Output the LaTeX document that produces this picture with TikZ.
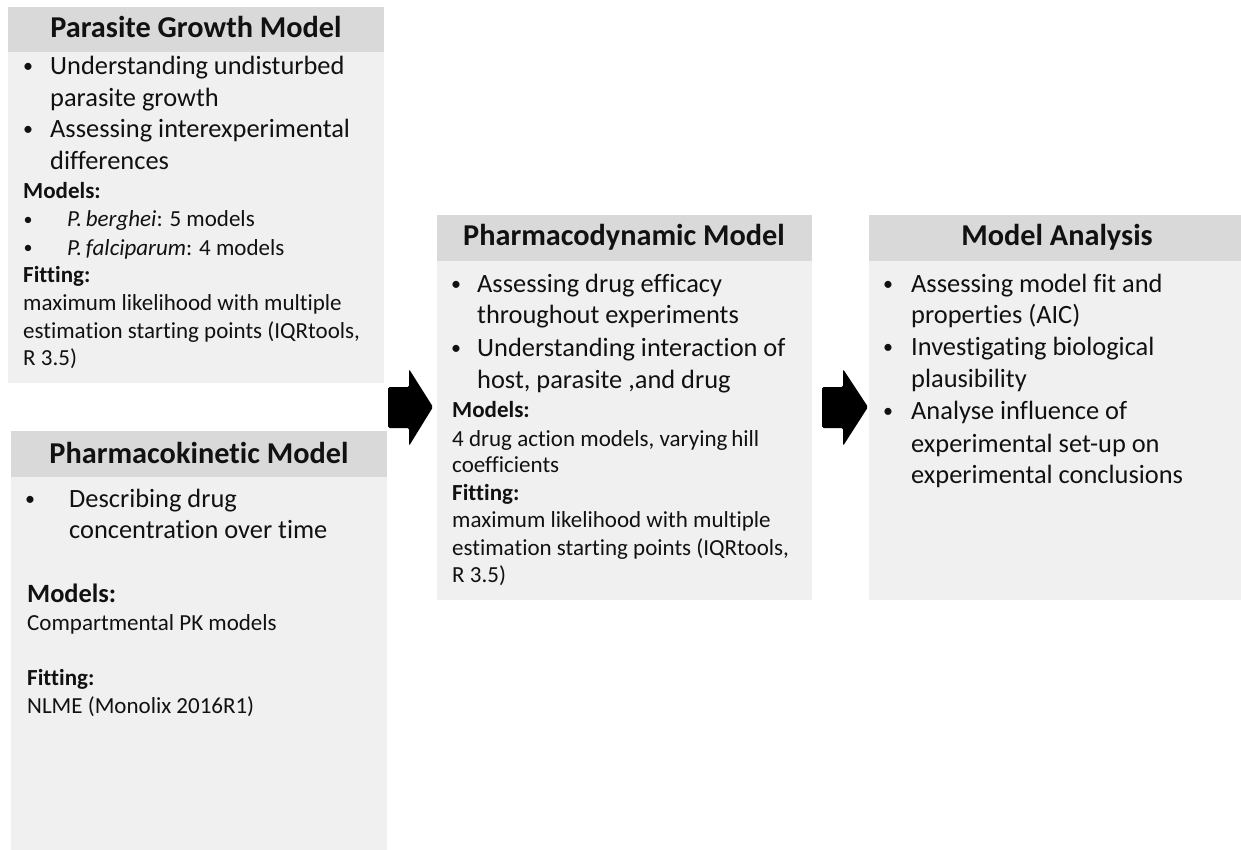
\documentclass[tikz,border=0pt]{standalone}
\usepackage{fontspec}
\setmainfont{Carlito}[Ligatures=NoCommon]
\begin{document}
\begin{tikzpicture}[x=1pt,y=-1pt,
  hdrfill/.style={fill=hdrgray},
  bodyfill/.style={fill=bodygray},
  hdr/.style={font=\bfseries\fontsize{30.3}{36}\selectfont, anchor=base, inner sep=0pt, text=ink},
  big/.style={font=\fontsize{26.4}{32}\selectfont, anchor=base west, inner sep=0pt, text=ink},
  small/.style={font=\fontsize{23}{28}\selectfont, anchor=base west, inner sep=0pt, text=ink},
  smallb/.style={small, font=\bfseries\fontsize{23}{28}\selectfont},
  bigb/.style={big, font=\bfseries\fontsize{26.4}{32}\selectfont},
  dot/.style={font=\fontsize{20}{24}\selectfont, anchor=base, inner sep=0pt, text=ink, yshift=2pt},
  sdot/.style={font=\fontsize{18}{22}\selectfont, anchor=base, inner sep=0pt, text=ink, yshift=1.5pt},
  blockarrow/.style={fill=black, rounded corners=1.5pt}
]
\definecolor{hdrgray}{HTML}{D9D9D9}
\definecolor{bodygray}{HTML}{F0F0F0}
\definecolor{ink}{HTML}{111111}
\useasboundingbox (0,0) rectangle (1241,850);

% ---- panel backgrounds ----
\path[bodyfill] (8,7) rectangle (384,383);
\path[hdrfill]  (8,7) rectangle (384,52);
\path[bodyfill] (11,431) rectangle (387,850);
\path[hdrfill]  (11,431) rectangle (387,477);
\path[bodyfill] (437,215) rectangle (812,600);
\path[hdrfill]  (437,215) rectangle (812,261);
\path[bodyfill] (869,215) rectangle (1241,600);
\path[hdrfill]  (869,215) rectangle (1241,261);

% ---- Parasite Growth Model ----
\node[hdr] (pgh) at (196,38) {Parasite Growth Model};
\node[dot] (pgd1) at (28,75) {•};
\node[big] (pg1) at (50,75) {Understanding undisturbed};
\node[big] (pg2) at (50,107) {parasite growth};
\node[dot] (pgd2) at (28,138) {•};
\node[big] (pg3) at (50,138) {Assessing interexperimental};
\node[big] (pg4) at (50,170) {differences};
\node[smallb] (pgm) at (23,199) {Models:};
\node[sdot] (pgd3) at (28,227) {•};
\node[small] (pg5) at (67,227) {\textit{P.\,berghei}: 5 models};
\node[sdot] (pgd4) at (28,255) {•};
\node[small] (pg6) at (67,255) {\textit{P.\,falciparum}: 4 models};
\node[smallb] (pgf) at (23,282) {Fitting:};
\node[small] (pg7) at (23,310) {maximum likelihood with multiple};
\node[small] (pg8) at (23,338) {estimation starting points (IQRtools,};
\node[small] (pg9) at (23,365) {R 3.5)};

% ---- Pharmacokinetic Model ----
\node[hdr] (pkh) at (199,463) {Pharmacokinetic Model};
\node[dot] (pkd1) at (30,507) {•};
\node[big] (pk1) at (69,507) {Describing drug};
\node[big] (pk2) at (69,538) {concentration over time};
\node[bigb] (pkm) at (27,602) {Models:};
\node[small] (pk3) at (27,630) {Compartmental PK models};
\node[smallb] (pkf) at (27,685) {Fitting:};
\node[small] (pk4) at (27,713) {NLME (Monolix 2016R1)};

% ---- Pharmacodynamic Model ----
\node[hdr] (pdh) at (624,246) {Pharmacodynamic Model};
\node[dot] (pdd1) at (456,292) {•};
\node[big] (pd1) at (477,292) {Assessing drug efficacy};
\node[big] (pd2) at (477,323) {throughout experiments};
\node[dot] (pdd2) at (456,356) {•};
\node[big] (pd3) at (477,356) {Understanding interaction of};
\node[big] (pd4) at (477,388) {host, parasite ,and drug};
\node[smallb] (pdm) at (452,417) {Models:};
\node[small] (pd5) at (452,446) {4 drug action models, varying\,hill};
\node[small] (pd6) at (452,472) {coefficients};
\node[smallb] (pdf) at (452,500) {Fitting:};
\node[small] (pd7) at (452,527) {maximum likelihood with multiple};
\node[small] (pd8) at (452,555) {estimation starting points (IQRtools,};
\node[small] (pd9) at (452,582) {R 3.5)};

% ---- Model Analysis ----
\node[hdr] (mah) at (1057,246) {Model Analysis};
\node[dot] (mad1) at (888,292) {•};
\node[big] (ma1) at (911,292) {Assessing model fit and};
\node[big] (ma2) at (911,323) {properties (AIC)};
\node[dot] (mad2) at (888,355) {•};
\node[big] (ma3) at (911,355) {Investigating biological};
\node[big] (ma4) at (911,387) {plausibility};
\node[dot] (mad3) at (888,419) {•};
\node[big] (ma5) at (911,419) {Analyse influence of};
\node[big] (ma6) at (911,452) {experimental set-up on};
\node[big] (ma7) at (911,483) {experimental conclusions};

% ---- block arrows between stages ----
\fill[blockarrow] (388,387) -- (409,387) -- (409,369) -- (433,407) -- (409,446) -- (409,428) -- (388,428) -- cycle;
\fill[blockarrow] (822,387) -- (843,387) -- (843,369) -- (868,407) -- (843,446) -- (843,428) -- (822,428) -- cycle;
\end{tikzpicture}
\end{document}
